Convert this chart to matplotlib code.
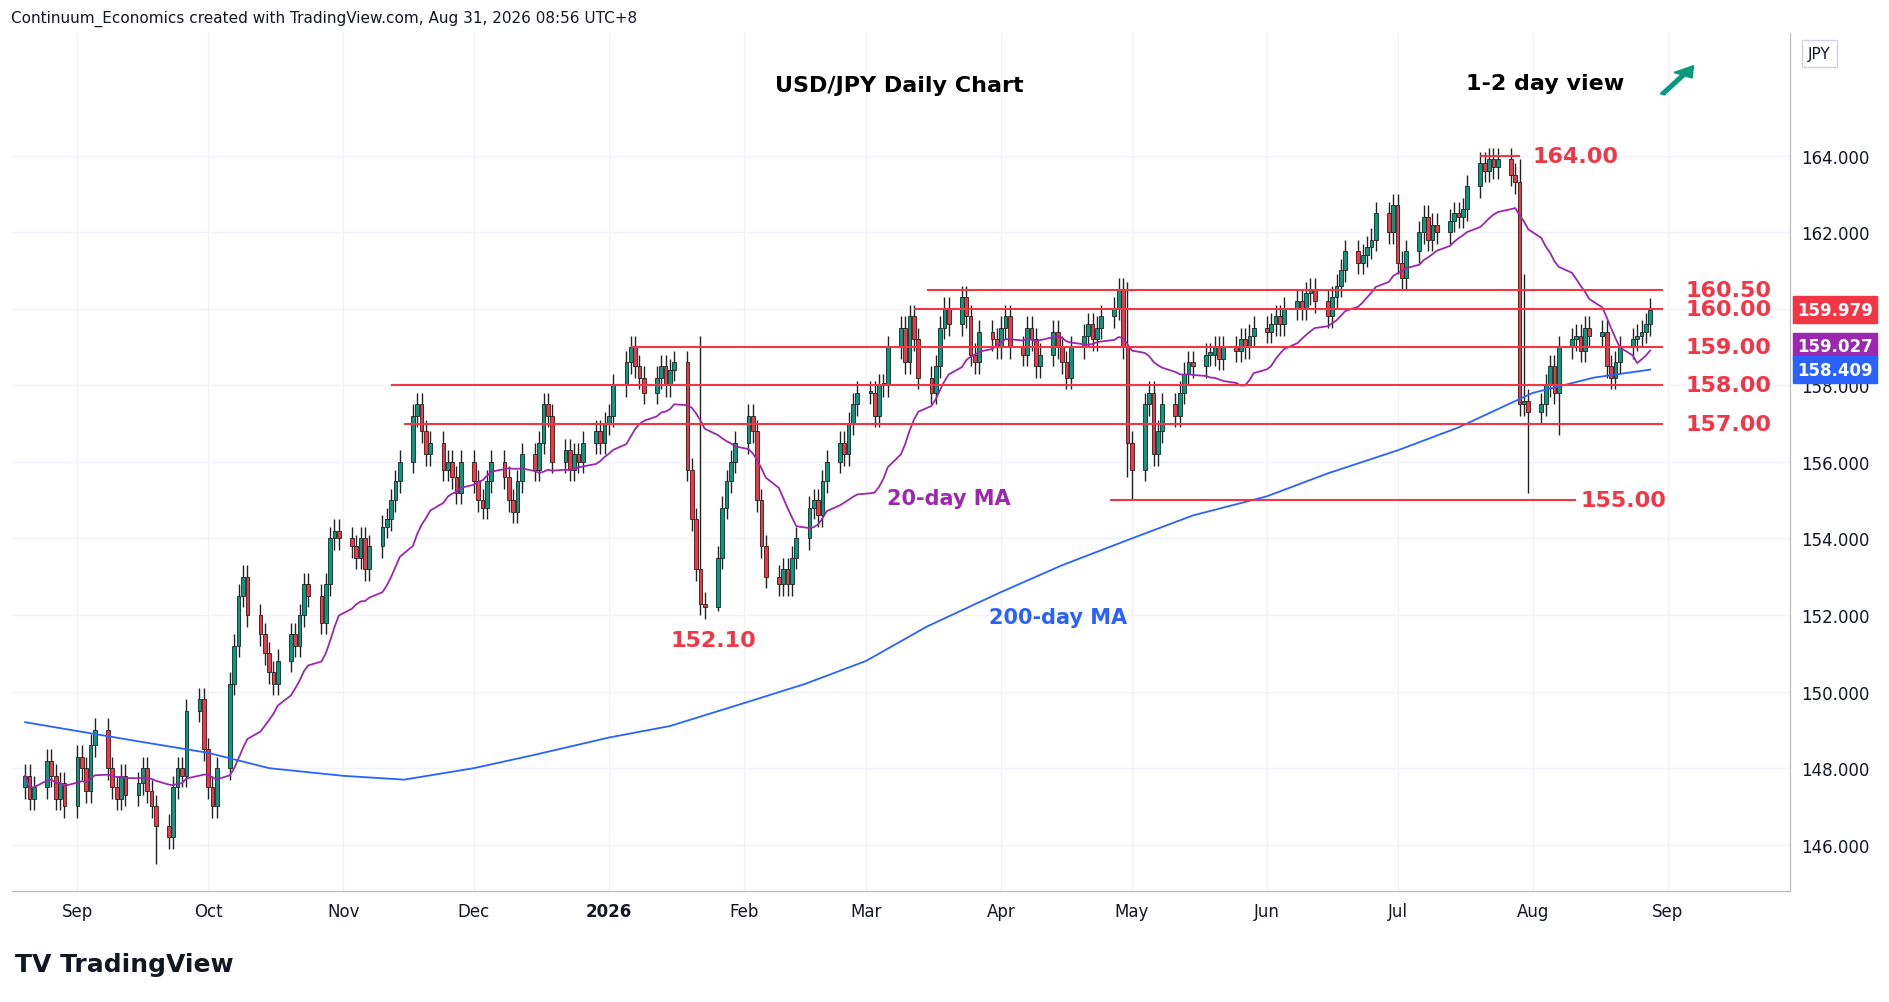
import pandas as pd
import numpy as np
import matplotlib.pyplot as plt
import matplotlib.dates as mdates
from matplotlib.patches import FancyArrow

# month start -> daily closes (business days)
closes = {
    "2025-08-20": [147.8, 147.2, 147.5, 148.2, 147.8, 147.2, 147.6, 147.0],
    "2025-09-01": [148.3, 148.0, 147.4, 148.6, 149.0, 148.0, 147.5, 147.2, 147.8, 147.3, 147.6,
                   148.0, 147.4, 147.0, 146.5, 146.2, 147.5, 148.0, 147.8, 149.5, 149.8, 148.5],
    "2025-10-01": [147.5, 147.0, 148.0, 150.2, 151.2, 152.5, 153.0, 152.0, 151.5, 151.0, 150.5, 150.2,
                   150.8, 151.5, 151.2, 152.0, 152.8, 152.5, 151.8, 152.8, 154.0, 154.2, 154.0],
    "2025-11-01": [153.8, 153.5, 154.0, 153.2, 153.8, 154.3, 154.5, 155.0, 155.5, 156.0, 157.2, 157.5,
                   156.8, 156.2, 156.5, 155.8, 156.0, 155.6, 155.2, 156.0],
    "2025-12-01": [155.5, 155.0, 154.8, 155.5, 156.0, 155.6, 155.0, 154.7, 155.5, 156.2, 155.8, 156.5,
                   157.5, 157.2, 156.0, 156.3, 155.8, 156.2, 156.0, 156.5, 156.8, 156.5, 157.0],
    "2026-01-01": [157.2, 158.0, 158.6, 159.0, 158.5, 158.2, 157.8, 158.2, 158.5, 158.0, 158.4, 158.6,
                   155.8, 154.5, 153.2, 152.3, 152.2, 153.5, 154.8, 155.5, 156.0, 156.5],
    "2026-02-01": [157.2, 156.8, 155.0, 153.8, 153.0, 152.8, 153.2, 152.8, 153.5, 154.0, 154.8, 155.0,
                   154.6, 155.5, 156.0, 156.5, 156.2, 157.0, 157.5, 157.8],
    "2026-03-01": [157.8, 157.2, 158.0, 158.0, 159.0, 159.5, 158.6, 159.8, 159.2, 158.2, 157.8, 158.5,
                   159.5, 160.0, 159.6, 160.3, 159.8, 158.8, 158.6, 159.4, 159.2, 159.0],
    "2026-04-01": [159.5, 159.8, 159.0, 158.8, 159.5, 159.2, 158.5, 158.8, 159.4, 159.0, 158.6, 158.2,
                   159.0, 159.3, 159.6, 159.2, 159.5, 159.8, 160.0, 160.5, 159.0, 156.5],
    "2026-05-01": [155.8, 157.5, 157.8, 156.2, 156.8, 157.5, 157.2, 157.8, 158.3, 158.6, 158.5, 158.8,
                   158.8, 159.0, 158.7, 159.0, 158.9, 159.2, 159.0, 159.3, 159.5],
    "2026-06-01": [159.4, 159.6, 159.8, 159.6, 160.0, 160.2, 160.0, 160.4, 160.5, 160.2, 159.8, 160.3,
                   160.6, 161.0, 161.5, 161.2, 161.4, 161.6, 161.8, 162.5, 162.0, 162.7],
    "2026-07-01": [161.2, 160.8, 161.5, 162.0, 162.4, 161.8, 162.2, 162.0, 162.3, 162.5, 162.4, 162.6,
                   163.2, 163.8, 163.6, 163.9, 163.7, 163.9, 163.5, 163.3, 157.5, 157.6, 157.3],
    "2026-08-01": [157.5, 158.0, 158.5, 157.8, 159.0, 159.2, 159.3, 158.9, 159.5, 159.3, 159.4, 158.5,
                   158.2, 158.6, 159.0, 159.2, 159.3, 159.4, 159.6, 159.98],
}
month_end = {"2025-08-20": "2025-08-29", "2026-08-01": "2026-08-28"}
# long wicks
extra_low = {"2025-09-19": 145.5, "2026-01-26": 152.1, "2026-05-01": 155.0, "2026-07-31": 155.2,
             "2026-08-07": 156.7, "2026-04-30": 155.6}
extra_high = {"2026-04-30": 160.7, "2026-01-22": 159.3, "2026-07-29": 163.9, "2026-07-30": 160.9}

ma200_dates = ["2025-08-20", "2025-09-15", "2025-10-01", "2025-10-15", "2025-11-01", "2025-11-15",
               "2025-12-01", "2025-12-15", "2026-01-01", "2026-01-15", "2026-02-01", "2026-02-15",
               "2026-03-01", "2026-03-15", "2026-04-01", "2026-04-15", "2026-05-01", "2026-05-15",
               "2026-06-01", "2026-06-15", "2026-07-01", "2026-07-15", "2026-08-01", "2026-08-15",
               "2026-08-28"]
ma200_vals = [149.2, 148.7, 148.4, 148.0, 147.8, 147.7, 148.0, 148.35, 148.8, 149.1, 149.7, 150.2,
              150.8, 151.7, 152.6, 153.3, 154.0, 154.6, 155.1, 155.7, 156.3, 156.9, 157.8, 158.2, 158.41]

rows = []
for start, vals in closes.items():
    end = month_end.get(start, (pd.Timestamp(start) + pd.offsets.MonthEnd(0)).strftime("%Y-%m-%d"))
    days = pd.bdate_range(start, end)
    for d, c in zip(days, vals):
        rows.append((d, c))
df = pd.DataFrame(rows, columns=["date", "close"]).set_index("date")
df["open"] = df["close"].shift(1).fillna(df["close"].iloc[0] - 0.3)
df["high"] = df[["open", "close"]].max(axis=1) + 0.3
df["low"] = df[["open", "close"]].min(axis=1) - 0.3
for k, v in extra_low.items():
    if pd.Timestamp(k) in df.index:
        df.loc[pd.Timestamp(k), "low"] = v
for k, v in extra_high.items():
    if pd.Timestamp(k) in df.index:
        df.loc[pd.Timestamp(k), "high"] = v
df["ma20"] = df["close"].rolling(20, min_periods=1).mean()

UP, DN, RED = "#089981", "#f23645", "#f23645"
fig = plt.figure(figsize=(18.89, 10.03), dpi=100)
ax = fig.add_axes([0.0064, 0.111, 0.941, 0.855])

x = mdates.date2num(df.index)
for xi, (o, h, l, c) in zip(x, df[["open", "high", "low", "close"]].values):
    col = UP if c >= o else DN
    ax.vlines(xi, l, h, color="#222222", lw=1)
    ax.bar(xi, max(abs(c - o), 0.06), bottom=min(o, c), width=0.85, color=col,
           edgecolor="#222222", lw=0.6, zorder=3)

ax.plot(x, df["ma20"], color="#9c27b0", lw=1.3, zorder=4)
ax.plot(mdates.date2num(pd.to_datetime(ma200_dates)), ma200_vals, color="#2962ff", lw=1.3, zorder=4)

levels = [(164.0, "2026-07-20", "2026-07-29"), (160.5, "2026-03-15", "2026-08-31"),
          (160.0, "2026-03-12", "2026-08-31"), (159.0, "2026-01-06", "2026-08-31"),
          (158.0, "2025-11-12", "2026-08-31"), (157.0, "2025-11-15", "2026-08-31"),
          (155.0, "2026-04-26", "2026-08-11")]
for y, a, b in levels:
    ax.hlines(y, mdates.datestr2num(a), mdates.datestr2num(b), color=RED, lw=1.5, zorder=5)

lab = [("164.00", "2026-08-01", 164.0), ("160.50", "2026-09-05", 160.5), ("160.00", "2026-09-05", 160.0),
       ("159.00", "2026-09-05", 159.0), ("158.00", "2026-09-05", 158.0), ("157.00", "2026-09-05", 157.0),
       ("155.00", "2026-08-12", 155.0)]
for t, d, y in lab:
    ax.text(mdates.datestr2num(d), y, t, color=RED, fontsize=16, fontweight="bold", va="center", ha="left")
ax.text(mdates.datestr2num("2026-01-25"), 151.6, "152.10", color=RED, fontsize=16, fontweight="bold",
        ha="center", va="top")
ax.text(mdates.datestr2num("2026-03-20"), 154.9, "20-day MA", color="#9c27b0", fontsize=15,
        fontweight="bold", ha="center")
ax.text(mdates.datestr2num("2026-04-14"), 151.8, "200-day MA", color="#2962ff", fontsize=15,
        fontweight="bold", ha="center")

ax.set_xlim(mdates.datestr2num("2025-08-17"), mdates.datestr2num("2026-09-29"))
ax.set_ylim(144.8, 167.2)
ax.yaxis.tick_right()
ax.set_yticks(np.arange(146, 166, 2))
ax.set_yticklabels([f"{v:.3f}" for v in np.arange(146, 166, 2)], fontsize=12, color="#131722")
ticks = pd.date_range("2025-09-01", "2026-09-01", freq="MS")
ax.set_xticks(mdates.date2num(ticks))
ax.set_xticklabels(["2026" if t.month == 1 else t.strftime("%b") for t in ticks], fontsize=12, color="#131722")
for lbl in ax.get_xticklabels():
    if lbl.get_text() == "2026":
        lbl.set_fontweight("bold")
ax.tick_params(length=0, pad=8)
ax.grid(color="#f0f3fa", lw=1)
for s in ["top", "left"]:
    ax.spines[s].set_visible(False)
ax.spines["right"].set_color("#b2b5be")
ax.spines["bottom"].set_color("#b2b5be")

for v, col in [(159.979, "#f23645"), (159.027, "#9c27b0"), (158.409, "#2962ff")]:
    ax.text(1.004, v, f"{v:.3f}", transform=ax.get_yaxis_transform(), fontsize=12, color="white",
            va="center", ha="left", fontweight="bold",
            bbox=dict(boxstyle="square,pad=0.25", fc=col, ec=col))

fig.text(0.476, 0.914, "USD/JPY Daily Chart", fontsize=16, ha="center", va="center", fontweight="bold")
fig.text(0.818, 0.916, "1-2 day view", fontsize=16, ha="center", va="center", fontweight="bold")
fig.add_artist(FancyArrow(0.880, 0.905, 0.011, 0.019, width=0.0025, head_width=0.011,
                          head_length=0.011, color="#089981", transform=fig.transFigure))
fig.text(0.006, 0.981, "Continuum_Economics created with TradingView.com, Aug 31, 2026 08:56 UTC+8",
         fontsize=11, color="#131722", va="center")
fig.text(0.963, 0.946, "JPY", fontsize=11, color="#131722", ha="center", va="center",
         bbox=dict(boxstyle="square,pad=0.4", fc="white", ec="#d1d4dc"))
fig.text(0.008, 0.038, "TV TradingView", fontsize=18, fontweight="bold", color="#131722", va="center")
fig.savefig("out.png", dpi=100)
